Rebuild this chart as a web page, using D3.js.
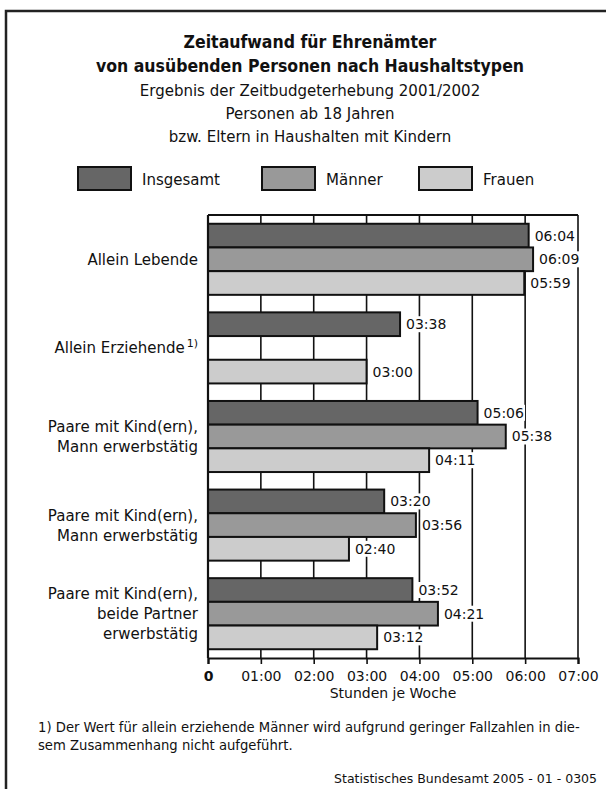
<!DOCTYPE html>
<html>
<head>
<meta charset="utf-8">
<script src="https://cdn.jsdelivr.net/npm/d3@7"></script>
<style>
	html, body { margin: 0; padding: 0; background: #fff; overflow: hidden; width: 606px; height: 789px; }
	#root { width: 606px; height: 789px; overflow: hidden; }
	svg { display: block; }
	svg text { font-family: 'DejaVu Sans', sans-serif; fill: #111; }
	.title { font-family: 'DejaVu Sans Condensed', 'DejaVu Sans', sans-serif; font-weight: bold; }
</style>
</head>
<body>
<div id="root"></div>
<script>
const categories	= [
	['Allein Lebende'],
	['Allein Erziehende'],
	['Paare mit Kind(ern),', 'Mann erwerbstätig'],
	['Paare mit Kind(ern),', 'Mann erwerbstätig'],
	['Paare mit Kind(ern),', 'beide Partner', 'erwerbstätig'],
];
const series		= ['Insgesamt', 'Männer', 'Frauen'];
const insgesamt		= ['06:04', '03:38', '05:06', '03:20', '03:52'];
const maenner		= ['06:09', null, '05:38', '03:56', '04:21'];
const frauen		= ['05:59', '03:00', '04:11', '02:40', '03:12'];
const ticks			= [0, 1, 2, 3, 4, 5, 6, 7];

const titles		= ['Zeitaufwand für Ehrenämter', 'von ausübenden Personen nach Haushaltstypen'];
const subtitles		= ['Ergebnis der Zeitbudgeterhebung 2001/2002', 'Personen ab 18 Jahren', 'bzw. Eltern in Haushalten mit Kindern'];
const footnote		= ['1) Der Wert für allein erziehende Männer wird aufgrund geringer Fallzahlen in die-', 'sem Zusammenhang nicht aufgeführt.'];
const source		= 'Statistisches Bundesamt 2005 - 01 - 0305';
const colors		= ['#666666', '#999999', '#cccccc'];

const toHours	= (s) => (s == null ? null : +s.split(':')[0] + (+s.split(':')[1]) / 60);
const pad2		= (n) => (n < 10 ? '0' + n : '' + n);

const rows	= categories.map((c, i) => ({
	index: i,
	label: c,
	values: [insgesamt[i], maenner[i], frauen[i]].map((v, j) => ({ series: j, text: v, hours: toHours(v) }))
}));

const W = 606, H = 789;
const plot	= { left: 208, right: 578, top: 215, bottom: 658 };

const svg	= d3.select('#root').append('svg')
	.attr('width', W)
	.attr('height', H);

// titles
svg.selectAll('.title').data(titles).enter().append('text')
	.attr('class', 'title')
	.attr('x', 310)
	.attr('y', (d, i) => 48 + i * 24)
	.attr('text-anchor', 'middle')
	.style('font-size', '17.5px')
	.text((d) => d);

svg.selectAll('.subtitle').data(subtitles).enter().append('text')
	.attr('class', 'subtitle')
	.attr('x', 310)
	.attr('y', (d, i) => 96 + i * 23)
	.attr('text-anchor', 'middle')
	.style('font-size', '15px')
	.text((d) => d);

// legend
const legendX	= [78, 262, 419];
const legend	= svg.selectAll('.legend').data(series).enter().append('g')
	.attr('class', 'legend')
	.attr('transform', (d, i) => 'translate(' + legendX[i] + ',167)');

legend.append('rect')
	.attr('width', 53)
	.attr('height', 23)
	.attr('fill', (d, i) => colors[i])
	.attr('stroke', '#111')
	.attr('stroke-width', 2);

legend.append('text')
	.attr('x', 64)
	.attr('y', 18)
	.style('font-size', '15px')
	.text((d) => d);

// scales
const x	= d3.scaleLinear().domain([0, 7]).range([plot.left, plot.right]);
const y	= d3.scaleBand().domain(rows.map((r) => r.index)).range([plot.top, plot.bottom]);
const ys	= d3.scaleBand().domain(series.map((s, i) => i)).range([0, y.bandwidth()]).paddingOuter(0.37);

// grid
svg.append('g').selectAll('line')
	.data(ticks.slice(1)).enter().append('line')
	.attr('x1', (d) => x(d)).attr('x2', (d) => x(d))
	.attr('y1', plot.top).attr('y2', plot.bottom)
	.attr('stroke', '#111')
	.attr('stroke-width', 1.6);

svg.append('line')
	.attr('x1', plot.left).attr('x2', plot.right)
	.attr('y1', plot.top).attr('y2', plot.top)
	.attr('stroke', '#111')
	.attr('stroke-width', 2);

// bars
const groups	= svg.selectAll('.group').data(rows).enter().append('g')
	.attr('class', 'group')
	.attr('transform', (r) => 'translate(0,' + y(r.index) + ')');

const bars	= groups.selectAll('.bar').data((r) => r.values.filter((v) => v.hours != null)).enter();

bars.append('rect')
	.attr('x', x(0))
	.attr('y', (v) => ys(v.series))
	.attr('width', (v) => x(v.hours) - x(0))
	.attr('height', ys.bandwidth())
	.attr('fill', (v) => colors[v.series])
	.attr('stroke', '#111')
	.attr('stroke-width', 2);

const labels	= groups.selectAll('.val').data((r) => r.values.filter((v) => v.hours != null)).enter().append('g')
	.attr('class', 'val');

labels.append('rect').attr('fill', '#fff');
labels.append('text')
	.attr('x', (v) => x(v.hours) + 6)
	.attr('y', (v) => ys(v.series) + ys.bandwidth() / 2 + 5)
	.style('font-size', '14px')
	.text((v) => v.text);

labels.each(function() {
	let g	= d3.select(this);
	let bb	= g.select('text').node().getBBox();
	g.select('rect')
		.attr('x', bb.x - 1).attr('y', bb.y)
		.attr('width', bb.width + 2).attr('height', bb.height);
});

// axis
const axis	= svg.append('g')
	.attr('transform', 'translate(0,' + plot.bottom + ')')
	.call(d3.axisBottom(x).tickValues(ticks).tickSize(6).tickPadding(7)
		.tickFormat((d) => (d === 0 ? '0' : pad2(d) + ':00')));

axis.select('.domain').attr('stroke', '#111').attr('stroke-width', 2.2);
axis.selectAll('.tick line').attr('stroke', '#111').attr('stroke-width', 1.6);
axis.selectAll('.tick text')
	.style('font-family', "'DejaVu Sans', sans-serif")
	.style('font-size', '14px')
	.attr('fill', '#111')
	.style('font-weight', (d) => (d === 0 ? 'bold' : 'normal'));

// left axis line
svg.append('line')
	.attr('x1', plot.left).attr('x2', plot.left)
	.attr('y1', plot.top).attr('y2', plot.bottom)
	.attr('stroke', '#111')
	.attr('stroke-width', 2.2);

svg.append('text')
	.attr('x', (plot.left + plot.right) / 2)
	.attr('y', 698)
	.attr('text-anchor', 'middle')
	.style('font-size', '14px')
	.text('Stunden je Woche');

// category labels
const catLabels	= svg.selectAll('.cat').data(rows).enter().append('text')
	.attr('class', 'cat')
	.attr('text-anchor', 'end')
	.style('font-size', '15px')
	.attr('transform', (r) => 'translate(198,' + (y(r.index) + y.bandwidth() / 2) + ')');

catLabels.each(function(r) {
	let t	= d3.select(this);
	let n	= r.label.length;
	r.label.forEach((line, i) => {
		t.append('tspan')
			.attr('x', 0)
			.attr('y', (i - (n - 1) / 2) * 20 + 5.5)
			.text(line);
	});
});

// superscript for Allein Erziehende
catLabels.filter((r) => r.index === 1).each(function() {
	let t	= d3.select(this);
	t.append('tspan')
		.attr('dx', 2)
		.attr('dy', -6)
		.style('font-size', '11px')
		.text('1)');
});

// footnote and source
svg.selectAll('.foot').data(footnote).enter().append('text')
	.attr('class', 'foot')
	.attr('x', 38)
	.attr('y', (d, i) => 732 + i * 18)
	.style('font-size', '13.2px')
	.text((d) => d);

svg.append('text')
	.attr('x', 597)
	.attr('y', 783)
	.attr('text-anchor', 'end')
	.style('font-size', '12.5px')
	.text(source);

// white strip on the right edge, then the outer frame (only left and top visible)
svg.append('rect')
	.attr('x', 599).attr('y', 0)
	.attr('width', 7).attr('height', H)
	.attr('fill', '#fff');

svg.append('path')
	.attr('d', 'M6,' + H + 'V11H' + W)
	.attr('fill', 'none')
	.attr('stroke', '#222')
	.attr('stroke-width', 2.5);
</script>
</body>
</html>
